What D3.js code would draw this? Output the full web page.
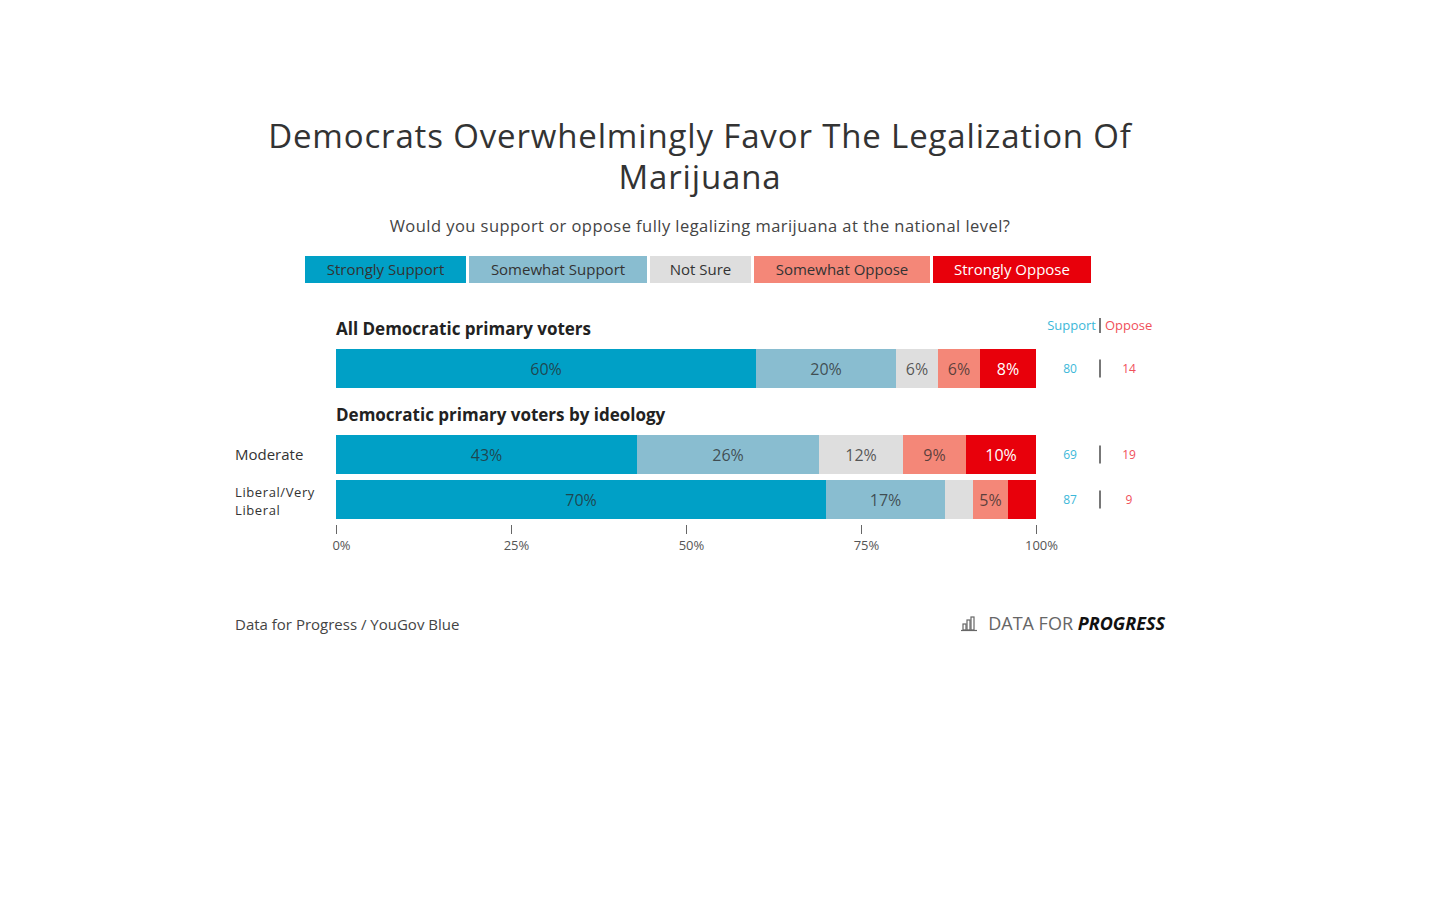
<!DOCTYPE html>
<html><head><meta charset="utf-8">
<script src="https://cdn.jsdelivr.net/npm/d3@7"></script>
<style>
body{margin:0;background:#fff;}
svg{display:block;font-family:"Open Sans",sans-serif;}
</style></head>
<body><svg id="chart" width="1440" height="900"></svg>
<script>
const categories = ["Strongly Support","Somewhat Support","Not Sure","Somewhat Oppose","Strongly Oppose"];
const colors = ["#00a0c6","#89bdd0","#dedede","#f48778","#e8000b"];
const groupTitles = ["All Democratic primary voters","Democratic primary voters by ideology"];
const rowLabels = [[""],["Moderate"],["Liberal/Very","Liberal"]];
const stronglySupport = [60,43,70];
const somewhatSupport = [20,26,17];
const notSure = [6,12,4];
const somewhatOppose = [6,9,5];
const stronglyOppose = [8,10,4];
const supportNet = [80,69,87];
const opposeNet = [14,19,9];
const tickValues = [0,25,50,75,100];

const svg = d3.select("#chart");
const series = [stronglySupport,somewhatSupport,notSure,somewhatOppose,stronglyOppose];

// Title
svg.append("text").attr("x",700).attr("y",148).attr("text-anchor","middle")
  .attr("font-size",33).attr("letter-spacing",0.85).attr("fill","#333").text("Democrats Overwhelmingly Favor The Legalization Of");
svg.append("text").attr("x",700).attr("y",189).attr("text-anchor","middle")
  .attr("font-size",33).attr("letter-spacing",0.85).attr("fill","#333").text("Marijuana");
svg.append("text").attr("x",700).attr("y",232).attr("text-anchor","middle")
  .attr("font-size",16.5).attr("letter-spacing",0.45).attr("fill","#444").text("Would you support or oppose fully legalizing marijuana at the national level?");

// Legend
const legendX = [305,469,650,754,933];
const legendW = [161,178,101,176,158];
const lg = svg.append("g");
categories.forEach((c,i)=>{
  lg.append("rect").attr("x",legendX[i]).attr("y",256).attr("width",legendW[i]).attr("height",27).attr("fill",colors[i]);
  lg.append("text").attr("x",legendX[i]+legendW[i]/2).attr("y",275).attr("text-anchor","middle")
    .attr("font-size",15).attr("fill", i===4?"#fff":"#333").text(c);
});

// Scales
const x = d3.scaleLinear().domain([0,100]).range([336,1036]);
const rowY = [349,435,480];
const barH = 39;

// Group titles
svg.append("text").attr("x",336).attr("y",335).attr("font-size",17).attr("font-weight","bold").attr("fill","#222").text(groupTitles[0]);
svg.append("text").attr("x",336).attr("y",421).attr("font-size",17).attr("font-weight","bold").attr("fill","#222").text(groupTitles[1]);

// Bars
rowY.forEach((y,r)=>{
  let cum = 0;
  series.forEach((s,i)=>{
    const v = s[r];
    svg.append("rect").attr("x",x(cum)).attr("y",y).attr("width",x(cum+v)-x(cum)).attr("height",barH).attr("fill",colors[i]);
    if (v>=5) {
      svg.append("text").attr("x",(x(cum)+x(cum+v))/2).attr("y",y+barH/2+6).attr("text-anchor","middle")
        .attr("font-size",16).attr("fill", i===4?"#fff":"rgba(40,40,40,0.75)").text(v+"%");
    }
    cum += v;
  });
  const lab = rowLabels[r];
  if (lab.length===1) {
    svg.append("text").attr("x",235).attr("y",y+barH/2+5).attr("font-size",15).attr("fill","#333").text(lab[0]);
  } else {
    lab.forEach((s,k)=>svg.append("text").attr("x",235).attr("y",y+barH/2-3+k*18)
      .attr("font-size",13).attr("letter-spacing",0.6).attr("fill","#333").text(s));
  }
  svg.append("text").attr("x",1070).attr("y",y+barH/2+4).attr("text-anchor","middle").attr("font-size",12).attr("fill","#3cb8d9").text(supportNet[r]);
  svg.append("line").attr("x1",1100).attr("x2",1100).attr("y1",y+barH/2-9).attr("y2",y+barH/2+9).attr("stroke","#777").attr("stroke-width",2);
  svg.append("text").attr("x",1129).attr("y",y+barH/2+4).attr("text-anchor","middle").attr("font-size",12).attr("fill","#f0505a").text(opposeNet[r]);
});

// Support | Oppose header
svg.append("text").attr("x",1096).attr("y",330).attr("text-anchor","end").attr("font-size",13).attr("fill","#3cb8d9").text("Support");
svg.append("line").attr("x1",1100).attr("x2",1100).attr("y1",318).attr("y2",333).attr("stroke","#777").attr("stroke-width",2);
svg.append("text").attr("x",1105).attr("y",330).attr("font-size",13).attr("fill","#f0505a").text("Oppose");

// Axis
const axis = d3.axisBottom(x).tickValues(tickValues).tickFormat(d=>d+"%").tickSize(9);
const ag = svg.append("g").attr("transform","translate(0,525)").call(axis);
ag.select(".domain").remove();
ag.selectAll(".tick line").attr("stroke","#666");
ag.selectAll(".tick text").attr("font-size",13).attr("fill","#555").attr("font-family","'Open Sans',sans-serif").attr("dx",5).attr("dy",13);

// Footer
svg.append("text").attr("x",235).attr("y",630).attr("font-size",15).attr("fill","#444").text("Data for Progress / YouGov Blue");
const logo = svg.append("text").attr("x",1165).attr("y",630).attr("text-anchor","end").attr("font-size",18);
logo.append("tspan").attr("fill","#666").text("DATA FOR ");
logo.append("tspan").attr("fill","#111").attr("font-weight","bold").attr("font-style","italic").text("PROGRESS");
const ic = svg.append("g").attr("fill","none").attr("stroke","#666").attr("stroke-width",1.2);
[[963,624,3,6],[967,620,3,10],[971,617,3,13]].forEach(d=>ic.append("rect").attr("x",d[0]).attr("y",d[1]).attr("width",d[2]).attr("height",d[3]));
ic.append("line").attr("x1",961).attr("x2",977).attr("y1",630.5).attr("y2",630.5);
</script></body></html>
